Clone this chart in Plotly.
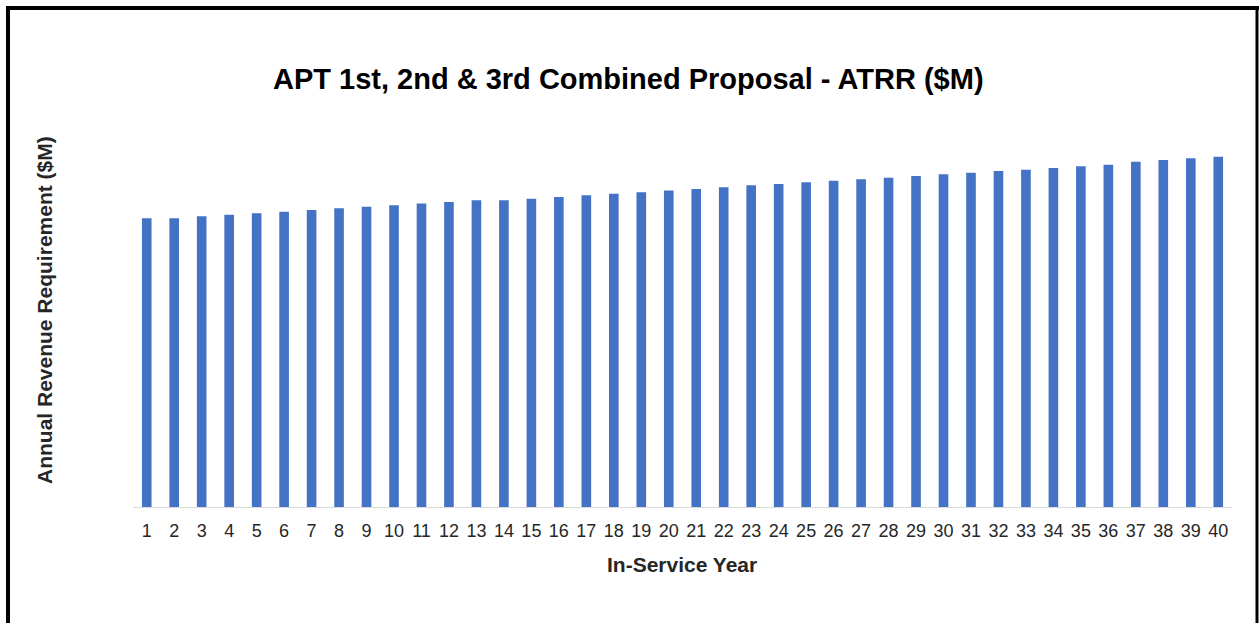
import plotly.graph_objects as go

# In-service years and annual revenue requirement ($M)
years = [str(y) for y in range(1, 41)]
atrr = [28.87, 28.87, 29.07, 29.23, 29.37, 29.53, 29.70, 29.87, 30.03, 30.17,
        30.35, 30.50, 30.67, 30.67, 30.83, 31.00, 31.17, 31.33, 31.47, 31.65,
        31.80, 31.97, 32.17, 32.30, 32.47, 32.63, 32.77, 32.93, 33.10, 33.27,
        33.43, 33.60, 33.73, 33.90, 34.07, 34.23, 34.53, 34.70, 34.87, 35.03]

title_text = "APT 1st, 2nd & 3rd Combined Proposal - ATRR ($M)"
y_title = "Annual Revenue Requirement ($M)"
x_title = "In-Service Year"

W, H = 1259, 623
ml, mr, mt, mb = 133, 27, 125, 116
pw, ph = W - ml - mr, H - mt - mb


def px_x(x):
    return (x - ml) / pw


def px_y(y):
    return (H - mb - y) / ph


fig = go.Figure(
    go.Bar(
        x=years,
        y=atrr,
        marker=dict(color="#4472C4", line=dict(width=0)),
        hoverinfo="x+y",
    )
)

fig.update_layout(
    width=W,
    height=H,
    margin=dict(l=ml, r=mr, t=mt, b=mb, pad=0),
    paper_bgcolor="white",
    plot_bgcolor="white",
    bargap=0.65,
    showlegend=False,
    font=dict(family="Liberation Sans, Arial, sans-serif", color="#262626"),
    xaxis=dict(
        type="category",
        showgrid=False,
        showline=True,
        linecolor="#D9D9D9",
        linewidth=1,
        ticks="",
        tickfont=dict(size=18, color="#262626"),
        ticklabelstandoff=7,
        zeroline=False,
    ),
    yaxis=dict(
        range=[0, ph / 10],
        showgrid=False,
        showline=False,
        showticklabels=False,
        ticks="",
        zeroline=False,
    ),
    shapes=[
        # frame around the chart
        dict(type="line", xref="paper", yref="paper",
             x0=px_x(8), x1=px_x(8), y0=px_y(8), y1=px_y(640),
             line=dict(color="black", width=4)),
        dict(type="line", xref="paper", yref="paper",
             x0=px_x(6), x1=px_x(1261), y0=px_y(8), y1=px_y(8),
             line=dict(color="black", width=4)),
        dict(type="line", xref="paper", yref="paper",
             x0=px_x(1257), x1=px_x(1257), y0=px_y(8), y1=px_y(640),
             line=dict(color="black", width=3)),
    ],
    annotations=[
        dict(text=f"<b>{title_text}</b>", xref="paper", yref="paper",
             x=px_x(628), y=px_y(79), showarrow=False,
             font=dict(size=29, color="black"), xanchor="center", yanchor="middle"),
        dict(text=f"<b>{y_title}</b>", xref="paper", yref="paper",
             x=px_x(44), y=px_y(310), showarrow=False, textangle=-90,
             font=dict(size=21, color="#262626"), xanchor="center", yanchor="middle"),
        dict(text=f"<b>{x_title}</b>", xref="paper", yref="paper",
             x=px_x(682), y=px_y(564), showarrow=False,
             font=dict(size=21, color="#262626"), xanchor="center", yanchor="middle"),
    ],
)

fig.write_html("out.html")
